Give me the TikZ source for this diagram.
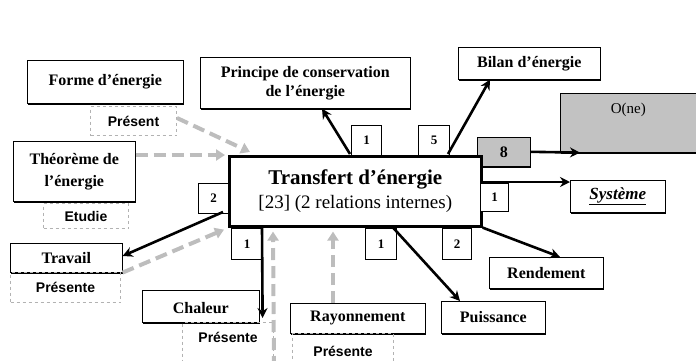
\documentclass[tikz,border=0pt]{standalone}
\usepackage{fontspec}
\setmainfont{Liberation Serif}
\newfontfamily\sansb{Liberation Sans}
\usetikzlibrary{arrows.meta,shadows}
\definecolor{gris}{gray}{0.76}
\definecolor{grisfleche}{gray}{0.74}

\tikzset{
  box/.style={draw, fill=white, line width=0.6pt, anchor=north west, inner sep=2pt, align=center,
    font=\bfseries\fontsize{16}{19}\selectfont,
    drop shadow={shadow xshift=1pt, shadow yshift=-1.6pt, fill=black, opacity=1}},
  mainbox/.style={draw, fill=white, line width=2.6pt, anchor=north west, inner sep=2pt, align=center},
  numbox/.style={draw, fill=white, line width=1pt, anchor=north west, inner sep=0pt,
    font=\bfseries\fontsize{13}{15}\selectfont},
  dbox/.style={draw=gray!60, dashed, line width=1pt, anchor=north west, inner sep=0pt,
    font=\sansb\bfseries\fontsize{14}{16}\selectfont},
  fleche/.style={line width=2.6pt, -{Stealth[length=10pt,width=10pt]}},
  retour/.style={line width=4pt, draw=grisfleche, dash pattern=on 12pt off 6pt,
    -{Triangle[length=9pt,width=11pt]}},
}

\begin{document}
\begin{tikzpicture}[x=1pt,y=-1pt]
    \useasboundingbox (0,0) rectangle (696,360);
    \clip (0,0) rectangle (696,360);
    % concepts autour
    \node[box, minimum width=156pt, minimum height=43pt] (forme) at (27,60) {Forme d'énergie};
    \node[dbox, minimum width=86pt, minimum height=29pt] (present1) at (90,106) {Présent};
    \node[box, minimum width=122pt, minimum height=60pt, font=\bfseries\fontsize{16}{22}\selectfont] (theoreme) at (13,141) {Théorème de\\l'énergie};
    \node[dbox, minimum width=85pt, minimum height=25pt] (etudie) at (43,203) {Etudie};
    \node[box, minimum width=210pt, minimum height=51pt, font=\bfseries\fontsize{16}{19}\selectfont] (principe) at (200,57) {Principe de conservation\\de l'énergie};
    \node[box, minimum width=142pt, minimum height=32pt] (bilan) at (458,47) {Bilan d'énergie};
    \node[box, fill=gris, minimum width=136pt, inner ysep=9pt, text height=11pt, text depth=30pt, font=\fontsize{15}{17}\selectfont] (one) at (560,93) {O(ne)};
    \node[box, fill=gris, minimum width=53pt, minimum height=29pt] (huit) at (477,137) {8};
    \node[box, minimum width=95pt, minimum height=32pt, font=\bfseries\itshape\fontsize{17}{19}\selectfont] (systeme) at (570,180) {\underline{Système}};
    \node[box, minimum width=112pt, minimum height=29pt] (travail) at (10,243) {Travail};
    \node[dbox, minimum width=110pt, minimum height=30pt] (present2) at (10,272) {Présente};
    \node[box, minimum width=117pt, minimum height=32pt, text height=15pt, text depth=1pt] (chaleur) at (142,290) {Chaleur};
    \node[dbox, minimum width=91pt, minimum height=45pt, text height=10pt, text depth=16pt] (present3) at (182,322) {Présente};
    \node[box, minimum width=135pt, minimum height=30pt] (rayonnement) at (290,303) {Rayonnement};
    \node[dbox, minimum width=101pt, minimum height=40pt, text height=10pt, text depth=5pt] (present4) at (292,333) {Présente};
    \node[box, minimum width=104pt, minimum height=32pt] (puissance) at (441,301) {Puissance};
    \node[box, minimum width=114pt, minimum height=31pt] (rendement) at (489,257) {Rendement};
    % concept central
    \node[mainbox, minimum width=252pt, minimum height=70pt] (transfert) at (228,155)
        {{\bfseries\fontsize{21}{25}\selectfont Transfert d'énergie}\\[5pt]
         {\fontsize{19}{22}\selectfont [23] (2 relations internes)}};
    % nombres de relations
    \node[numbox, minimum width=30pt, minimum height=30pt] (n1h) at (351,125) {1};
    \node[numbox, minimum width=31pt, minimum height=30pt] (n5h) at (418,125) {5};
    \node[numbox, minimum width=28pt, minimum height=28pt] (n1d) at (480,183) {1};
    \node[numbox, minimum width=30pt, minimum height=30pt] (n2g) at (198,183) {2};
    \node[numbox, minimum width=31pt, minimum height=31pt] (n1b) at (231,228) {1};
    \node[numbox, minimum width=31pt, minimum height=31pt] (n1m) at (365,228) {1};
    \node[numbox, minimum width=29pt, minimum height=31pt] (n2b) at (442,228) {2};
    % relations (gris)
    \draw[retour] ([yshift=3pt]present1.east) -- ([xshift=22pt,yshift=3pt]transfert.north west);
    \draw[retour] ([yshift=-14pt]theoreme.north east) -- ([xshift=-3pt]transfert.north west);
    \draw[retour] (travail.south east) -- ([xshift=-4pt,yshift=-2pt]transfert.south west);
    \draw[retour] (present3.south east) -- ([xshift=45pt,yshift=-4pt]transfert.south west);
    \draw[retour] ([xshift=43pt]rayonnement.north west) -- ([xshift=105pt,yshift=-4pt]transfert.south west);
    % relations (noir)
    \draw[fleche] ([xshift=122pt,yshift=1pt]transfert.north west) -- ([xshift=122pt]principe.south west);
    \draw[fleche] ([xshift=220pt,yshift=1pt]transfert.north west) -- ([xshift=32pt]bilan.south west);
    \draw[fleche] (huit.east) -- ([xshift=20pt]one.south west);
    \draw[fleche] ([yshift=-27pt]transfert.north east) -- ([yshift=-2pt]systeme.north west);
    \draw[fleche] (transfert.south east) -- ([xshift=71pt]rendement.north west);
    \draw[fleche] ([xshift=165pt]transfert.south west) -- ([xshift=19pt]puissance.north west);
    \draw[fleche] ([xshift=34pt]transfert.south west) -- ([xshift=3pt,yshift=-28pt]chaleur.north east);
    \draw[fleche] ([xshift=-5pt,yshift=-57pt]transfert.north west) -- ([yshift=-13pt]travail.north east);
\end{tikzpicture}
\end{document}
